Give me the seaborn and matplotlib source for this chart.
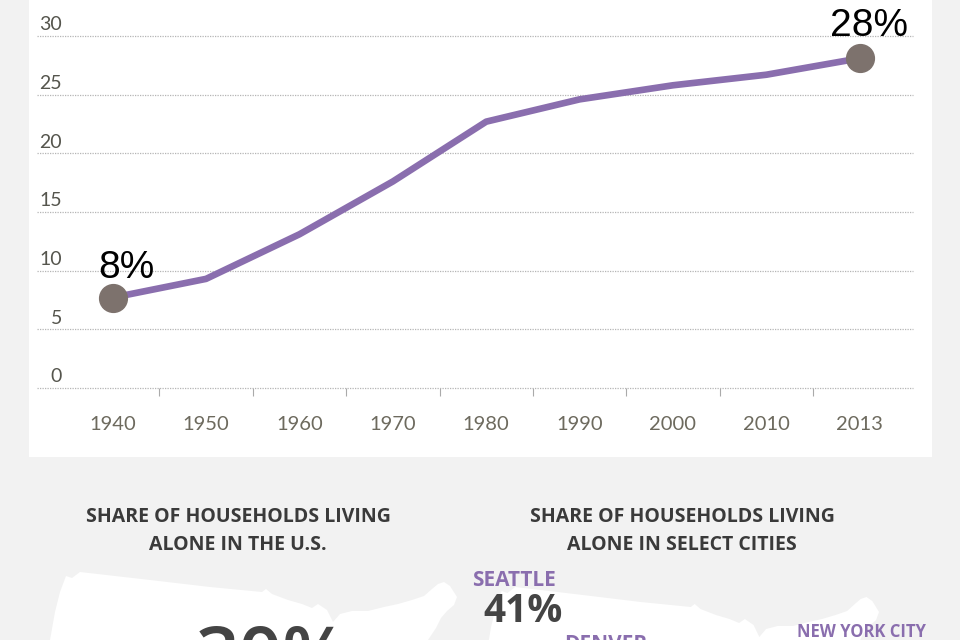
import numpy as np
import pandas as pd
import seaborn as sns
import matplotlib.pyplot as plt
from matplotlib.patches import Rectangle, Polygon
from matplotlib.transforms import ScaledTranslation

sns.set_style('white')
plt.rcParams['font.family'] = ['Lato', 'DejaVu Sans']

# data
years = ['1940', '1950', '1960', '1970', '1980', '1990', '2000', '2010', '2013']
share_alone = [7.7, 9.3, 13.1, 17.6, 22.7, 24.6, 25.8, 26.7, 28.1]
end_labels = ['8%', '28%']
y_ticks = [0, 5, 10, 15, 20, 25, 30]

df = pd.DataFrame({'pos': np.arange(len(years)), 'year': years, 'share': share_alone})

BG = '#f2f2f2'
PURPLE = '#8a6eae'
DOT = '#7d726d'
DARK = '#3a3a3a'

W, H = 960, 640
fig = plt.figure(figsize=(W / 100, H / 100), dpi=100, facecolor=BG)

def fx(px):
    return px / W

def fy(py):
    return 1 - py / H

# white card behind the line chart
fig.patches.append(Rectangle((fx(29), fy(457)), fx(932) - fx(29), 1.2,
                             transform=fig.transFigure, facecolor='white',
                             edgecolor='none', zorder=-2))

#==================================
# line chart
#==================================
ax = fig.add_axes([fx(37), fy(388), fx(913) - fx(37), fy(36) - fy(388)])
ax.set_facecolor('none')
ax.set_zorder(2)

sns.lineplot(data=df, x='pos', y='share', ax=ax, color=PURPLE, linewidth=4.8, zorder=3)

ends = df.iloc[[0, -1]]
ax.plot(ends['pos'], ends['share'], 'o', color=DOT, markersize=20, zorder=4, clip_on=False)
offsets = [(10, 14), (7, 16)]
for (_, r), lab, off in zip(ends.iterrows(), end_labels, offsets):
    ax.annotate(lab, (r['pos'], r['share']), xytext=off, textcoords='offset points',
                ha='center', va='baseline', fontsize=28, color='black',
                family='Liberation Sans', annotation_clip=False)

ax.set_xlim(-0.81, 8.57)
ax.set_ylim(0, 30)
ax.set_xlabel('')
ax.set_ylabel('')

ax.set_xticks(df['pos'])
ax.set_xticklabels(years)
ax.set_xticks(np.arange(0.5, len(years) - 1, 1), minor=True)
ax.tick_params(axis='x', which='major', bottom=False, pad=17, labelsize=14.5, labelcolor='#6d6a5e')
ax.tick_params(axis='x', which='minor', bottom=True, length=6, width=0.8, color='#aaaaaa',
               direction='out')

ax.set_yticks(y_ticks)
ax.set_yticklabels([str(t) for t in y_ticks])
ax.tick_params(axis='y', length=0, pad=-18, labelsize=14, labelcolor='#55554d')
for lab in ax.get_yticklabels():
    lab.set_verticalalignment('bottom')
    lab.set_transform(lab.get_transform() + ScaledTranslation(0, 2 / 72, fig.dpi_scale_trans))

ax.grid(axis='y', color='#b5b5b5', linestyle=(0, (1, 1)), linewidth=0.9)
ax.grid(axis='x', visible=False)
for gl in ax.get_ygridlines():
    gl.set_clip_on(False)
for s in ax.spines.values():
    s.set_visible(False)

#==================================
# lower panels
#==================================
# rough white U.S. silhouettes (decoration)
us_outline = [(40, 700), (50, 640), (55, 612), (60, 592), (66, 576), (72, 578), (80, 572),
              (150, 580), (210, 587), (262, 592), (266, 589), (272, 594), (288, 600),
              (302, 604), (312, 608), (318, 604), (327, 610), (333, 622), (340, 614),
              (352, 611), (368, 611), (384, 607), (398, 604), (412, 600), (424, 596),
              (432, 589), (438, 584), (444, 582), (450, 586), (457, 597), (454, 605),
              (447, 611), (441, 618), (436, 628), (428, 640), (420, 700)]
us_outline = np.array(us_outline, dtype=float)
for sx, dx, dy in [(1.0, 0, 0), (0.965, 438, 15)]:
    pts = np.column_stack([fx(us_outline[:, 0] * sx + dx), fy(us_outline[:, 1] + dy)])
    fig.patches.append(Polygon(pts, closed=True, transform=fig.transFigure,
                               facecolor='white', edgecolor='none', zorder=-1))

title_kw = dict(ha='center', va='center', fontsize=14, fontweight='bold', color=DARK,
                family=['Open Sans', 'DejaVu Sans'], linespacing=1.5)
fig.text(fx(238), fy(531), 'SHARE OF HOUSEHOLDS LIVING\nALONE IN THE U.S.', **title_kw)
fig.text(fx(682), fy(531), 'SHARE OF HOUSEHOLDS LIVING\nALONE IN SELECT CITIES', **title_kw)

fig.text(fx(272), fy(623), '30%', ha='center', va='top', fontsize=55, color='#444444',
         family=['Open Sans', 'DejaVu Sans'], fontweight='semibold')

city_kw = dict(va='center', fontweight='bold', color=PURPLE,
               family=['Open Sans', 'DejaVu Sans'])
fig.text(fx(472), fy(581), 'SEATTLE', ha='left', fontsize=15, **city_kw)
fig.text(fx(483), fy(612), '41%', ha='left', va='center', fontsize=28, fontweight='bold',
         color='#444444', family=['Open Sans', 'DejaVu Sans'])
fig.text(fx(564), fy(645), 'DENVER', ha='left', fontsize=15, **city_kw)
fig.text(fx(797), fy(632), 'NEW YORK CITY', ha='left', fontsize=12, **city_kw)

plt.savefig('out.png', dpi=100, facecolor=BG)
